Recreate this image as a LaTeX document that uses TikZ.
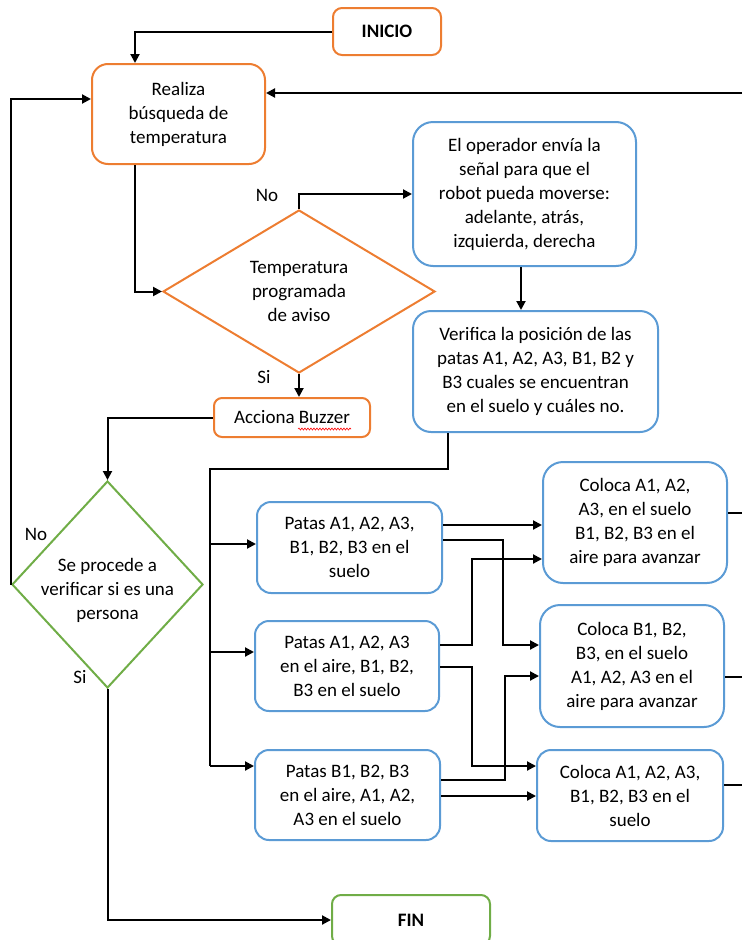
\documentclass[tikz,border=0pt]{standalone}
\usepackage{fontspec}
\setmainfont{Carlito}
\usetikzlibrary{arrows.meta,shapes.geometric,decorations.pathmorphing}
\definecolor{orng}{HTML}{ED7D31}
\definecolor{blu}{HTML}{5B9BD5}
\definecolor{grn}{HTML}{70AD47}
\begin{document}
\begin{tikzpicture}[x=1pt,y=-1pt,
 txt/.style={font=\fontsize{19}{24}\selectfont},
 box/.style={draw, line width=2pt, rounded corners=14pt, inner sep=0pt, align=center, txt},
 obox/.style={box, draw=orng},
 bbox/.style={box, draw=blu},
 gbox/.style={box, draw=grn},
 dia/.style={diamond, draw, line width=2pt, inner sep=0pt},
 lbl/.style={txt, inner sep=0pt},
 arr/.style={line width=2pt, -{Triangle[length=9pt,width=9pt]}},
 ln/.style={line width=2pt},
]
\useasboundingbox (0,0) rectangle (742,940);

% nodes
\node[obox, minimum width=108pt, minimum height=47pt, rounded corners=9pt, font=\bfseries\fontsize{19}{24}\selectfont] (ini) at (387,31.5) {INICIO};
\node[obox, minimum width=173pt, minimum height=100pt, rounded corners=16pt] (real) at (178.5,114) {Realiza\\búsqueda de\\temperatura};
\node[bbox, minimum width=223pt, minimum height=144pt, rounded corners=20pt] (op) at (524.5,194) {El operador envía la\\señal para que el\\robot pueda moverse:\\adelante, atrás,\\izquierda, derecha};
\node[bbox, minimum width=245pt, minimum height=121pt, rounded corners=18pt] (ver) at (535.5,371.5) {Verifica la posición de las\\patas A1, A2, A3, B1, B2 y\\B3 cuales se encuentran\\en el suelo y cuáles no.};
\node[obox, minimum width=156pt, minimum height=39pt, rounded corners=8pt] (buz) at (292,417.5) {Acciona Buzzer};
\node[bbox, minimum width=185pt, minimum height=91pt] (p1) at (349.5,547.5) {Patas A1, A2, A3,\\B1, B2, B3 en el\\suelo};
\node[bbox, minimum width=184pt, minimum height=90pt] (p2) at (347,666) {Patas A1, A2, A3\\en el aire, B1, B2,\\B3 en el suelo};
\node[bbox, minimum width=185pt, minimum height=90pt] (p3) at (347.5,795) {Patas B1, B2, B3\\en el aire, A1, A2,\\A3 en el suelo};
\node[bbox, minimum width=184pt, minimum height=121pt, rounded corners=20pt] (c1) at (635,522.5) {Coloca A1, A2,\\A3, en el suelo\\B1, B2, B3 en el\\aire para avanzar};
\node[bbox, minimum width=184pt, minimum height=122pt, rounded corners=20pt] (c2) at (632,666) {Coloca B1, B2,\\B3, en el suelo\\A1, A2, A3 en el\\aire para avanzar};
\node[bbox, minimum width=186pt, minimum height=91pt] (c3) at (630,795.5) {Coloca A1, A2, A3,\\B1, B2, B3 en el\\suelo};
\node[gbox, minimum width=158pt, minimum height=50pt, rounded corners=9pt, font=\bfseries\fontsize{19}{24}\selectfont] (fin) at (411,920) {FIN};

\node[dia, draw=orng, minimum width=272pt, minimum height=163pt] (d1) at (299,291.5) {};
\node[txt, align=center, inner sep=0pt] (d1t) at (d1.center) {Temperatura\\programada\\de aviso};
\node[dia, draw=grn, minimum width=191pt, minimum height=207pt] (d2) at (107.5,584.5) {};
\node[txt, align=center, inner sep=0pt] (d2t) at ([yshift=-6pt]d2.center) {Se procede a\\verificar si es una\\persona};

% labels
\node[lbl] (no1) at (267,195) {No};
\node[lbl] (si1) at (264,377) {Si};
\node[lbl] (no2) at (36,534) {No};
\node[lbl] (si2) at (80,677) {Si};

% spell-check underline
\draw[red, line width=0.6pt, decorate, decoration={snake, amplitude=1pt, segment length=3pt}] (298,429) -- (351,429);

% connectors
\coordinate (rin) at (742,93);
\draw[arr] (ini.west) -| ([xshift=-43.5pt]real.north);
\draw[arr] (d2.west) |- ([yshift=15pt]real.west);
\draw[arr] (rin) -- (rin -| real.east);
\draw[arr] ([xshift=-43.5pt]real.south) |- (d1.west);
\draw[arr] (d1.north) |- (op.west);
\draw[arr] ([xshift=-3.5pt]op.south) -- ([xshift=-3.5pt]op.south |- ver.north);
\draw[arr] (d1.south) -- (d1.south |- buz.north);
\draw[arr] (buz.west) -| (d2.north);
\draw[arr] (d2.south) |- (fin.west);

\coordinate (bt) at (210,469);
\coordinate (bb) at (210,766);
\coordinate (b2) at (210,652);
\coordinate (b1) at (210,544);
\draw[ln] ([xshift=-87.5pt]ver.south) |- (bt) -- (bb);
\draw[arr] (bb) -- (bb -| p3.west);
\draw[arr] (b2) -- (b2 -| p2.west);
\draw[arr] (b1) -- (b1 -| p1.west);

\draw[arr] (p1.east |- 0,525) -- (c1.west |- 0,525);
\draw[arr] (p1.east |- 0,540) -- (503,540) |- (c2.west |- 0,645);
\draw[arr] (p2.east |- 0,645) -- (472,645) |- (c1.west |- 0,559);
\draw[arr] (p2.east |- 0,667) -- (472,667) |- (c3.west |- 0,766);
\draw[arr] (p3.east |- 0,780) -- (505,780) |- (c2.west |- 0,676);
\draw[arr] (p3.east |- 0,796) -- (c3.west |- 0,796);

\coordinate (o1) at (742,513);
\coordinate (o2) at (742,677);
\coordinate (o3) at (742,785);
\draw[ln] (c1.east |- o1) -- (o1);
\draw[ln] (c2.east |- o2) -- (o2);
\draw[ln] (c3.east |- o3) -- (o3);
\end{tikzpicture}
\end{document}
